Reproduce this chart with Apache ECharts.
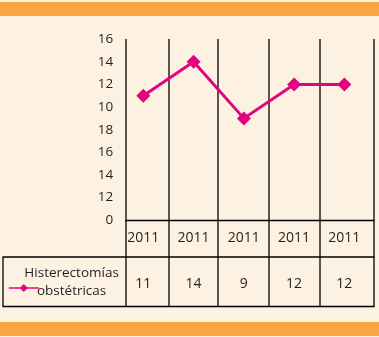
<!DOCTYPE html>
<html>
<head>
<meta charset="utf-8">
<script src="https://cdn.jsdelivr.net/npm/echarts@6/dist/echarts.min.js"></script>
<style>
  html, body { margin: 0; padding: 0; background: #FDF1E2; }
  #main { width: 379px; height: 337px; }
</style>
</head>
<body>
<div id="main"></div>
<script>
// datos de la gráfica
var years = ['2011', '2011', '2011', '2011', '2011'];
var values = [11, 14, 9, 12, 12];
var seriesName = 'Histerectomías obstétricas';
var legendLines = ['Histerectomías', 'obstétricas'];
// etiquetas del eje Y tal como aparecen en la imagen
var yLabels = ['0', '12', '14', '16', '18', '10', '12', '14', '16'];

var pink = '#E4037F';
var ink = '#231F20';
var font = '"Open Sans", sans-serif';

// líneas de la tabla (solo decoración)
var colX = [126, 169, 218, 269, 320, 374];
var lines = [];
colX.forEach(function (x) {
    lines.push({ type: 'line', shape: { x1: x, y1: 39, x2: x, y2: 306.5 } });
});
lines.push({ type: 'line', shape: { x1: 125, y1: 220.5, x2: 374.5, y2: 220.5 } });
lines.push({ type: 'line', shape: { x1: 2.5, y1: 257, x2: 374.5, y2: 257 } });
lines.push({ type: 'line', shape: { x1: 2.5, y1: 306.5, x2: 374.5, y2: 306.5 } });
lines.push({ type: 'line', shape: { x1: 3, y1: 257, x2: 3, y2: 306.5 } });
lines.forEach(function (l) {
    l.style = { stroke: '#000', lineWidth: 1.3 };
    l.silent = true;
});

var myChart = echarts.init(document.getElementById('main'));

var option = {
    backgroundColor: '#FDF1E2',
    animation: false,
    grid: { left: 118.2, right: 9.5, top: 39.1, bottom: 116.7 },
    legend: {
        left: 3,
        top: 278,
        itemWidth: 30,
        itemHeight: 10,
        formatter: function () { return ''; },
        textStyle: { fontSize: 8 },
        lineStyle: { width: 1.5 },
        data: [seriesName]
    },
    xAxis: [{
        type: 'category',
        data: years,
        position: 'bottom',
        axisLine: { show: false },
        axisTick: { show: false },
        axisLabel: {
            interval: 0, margin: 10.5, color: ink, fontFamily: font, fontSize: 14,
            formatter: function (v, i) { return years[i]; }
        }
    }, {
        type: 'category',
        data: years,
        position: 'bottom',
        offset: 48,
        axisLine: { show: false },
        axisTick: { show: false },
        axisLabel: {
            interval: 0, margin: 8.5, color: ink, fontFamily: font, fontSize: 14,
            formatter: function (v, i) { return String(values[i]); }
        }
    }],
    yAxis: {
        type: 'value',
        min: 0,
        max: 16,
        interval: 2,
        axisLine: { show: false },
        axisTick: { show: false },
        splitLine: { show: false },
        axisLabel: {
            margin: 5, color: ink, fontFamily: font, fontSize: 13.5,
            formatter: function (v) { return yLabels[v / 2]; }
        }
    },
    graphic: [
        { type: 'rect', shape: { x: 0, y: 2, width: 379, height: 14 }, style: { fill: '#F8A63F' }, silent: true },
        { type: 'rect', shape: { x: 0, y: 322, width: 379, height: 14 }, style: { fill: '#F8A63F' }, silent: true },
        {
            type: 'text', x: 71.6, y: 282.5, silent: true,
            style: {
                text: legendLines.join('\n'), fill: ink, font: '13.5px ' + font,
                lineHeight: 18, align: 'center', verticalAlign: 'middle'
            }
        }
    ].concat(lines),
    series: [{
        name: seriesName,
        type: 'line',
        data: values,
        symbol: 'diamond',
        symbolSize: 14,
        itemStyle: { color: pink },
        lineStyle: { color: pink, width: 3 }
    }]
};

myChart.setOption(option);
</script>
</body>
</html>
